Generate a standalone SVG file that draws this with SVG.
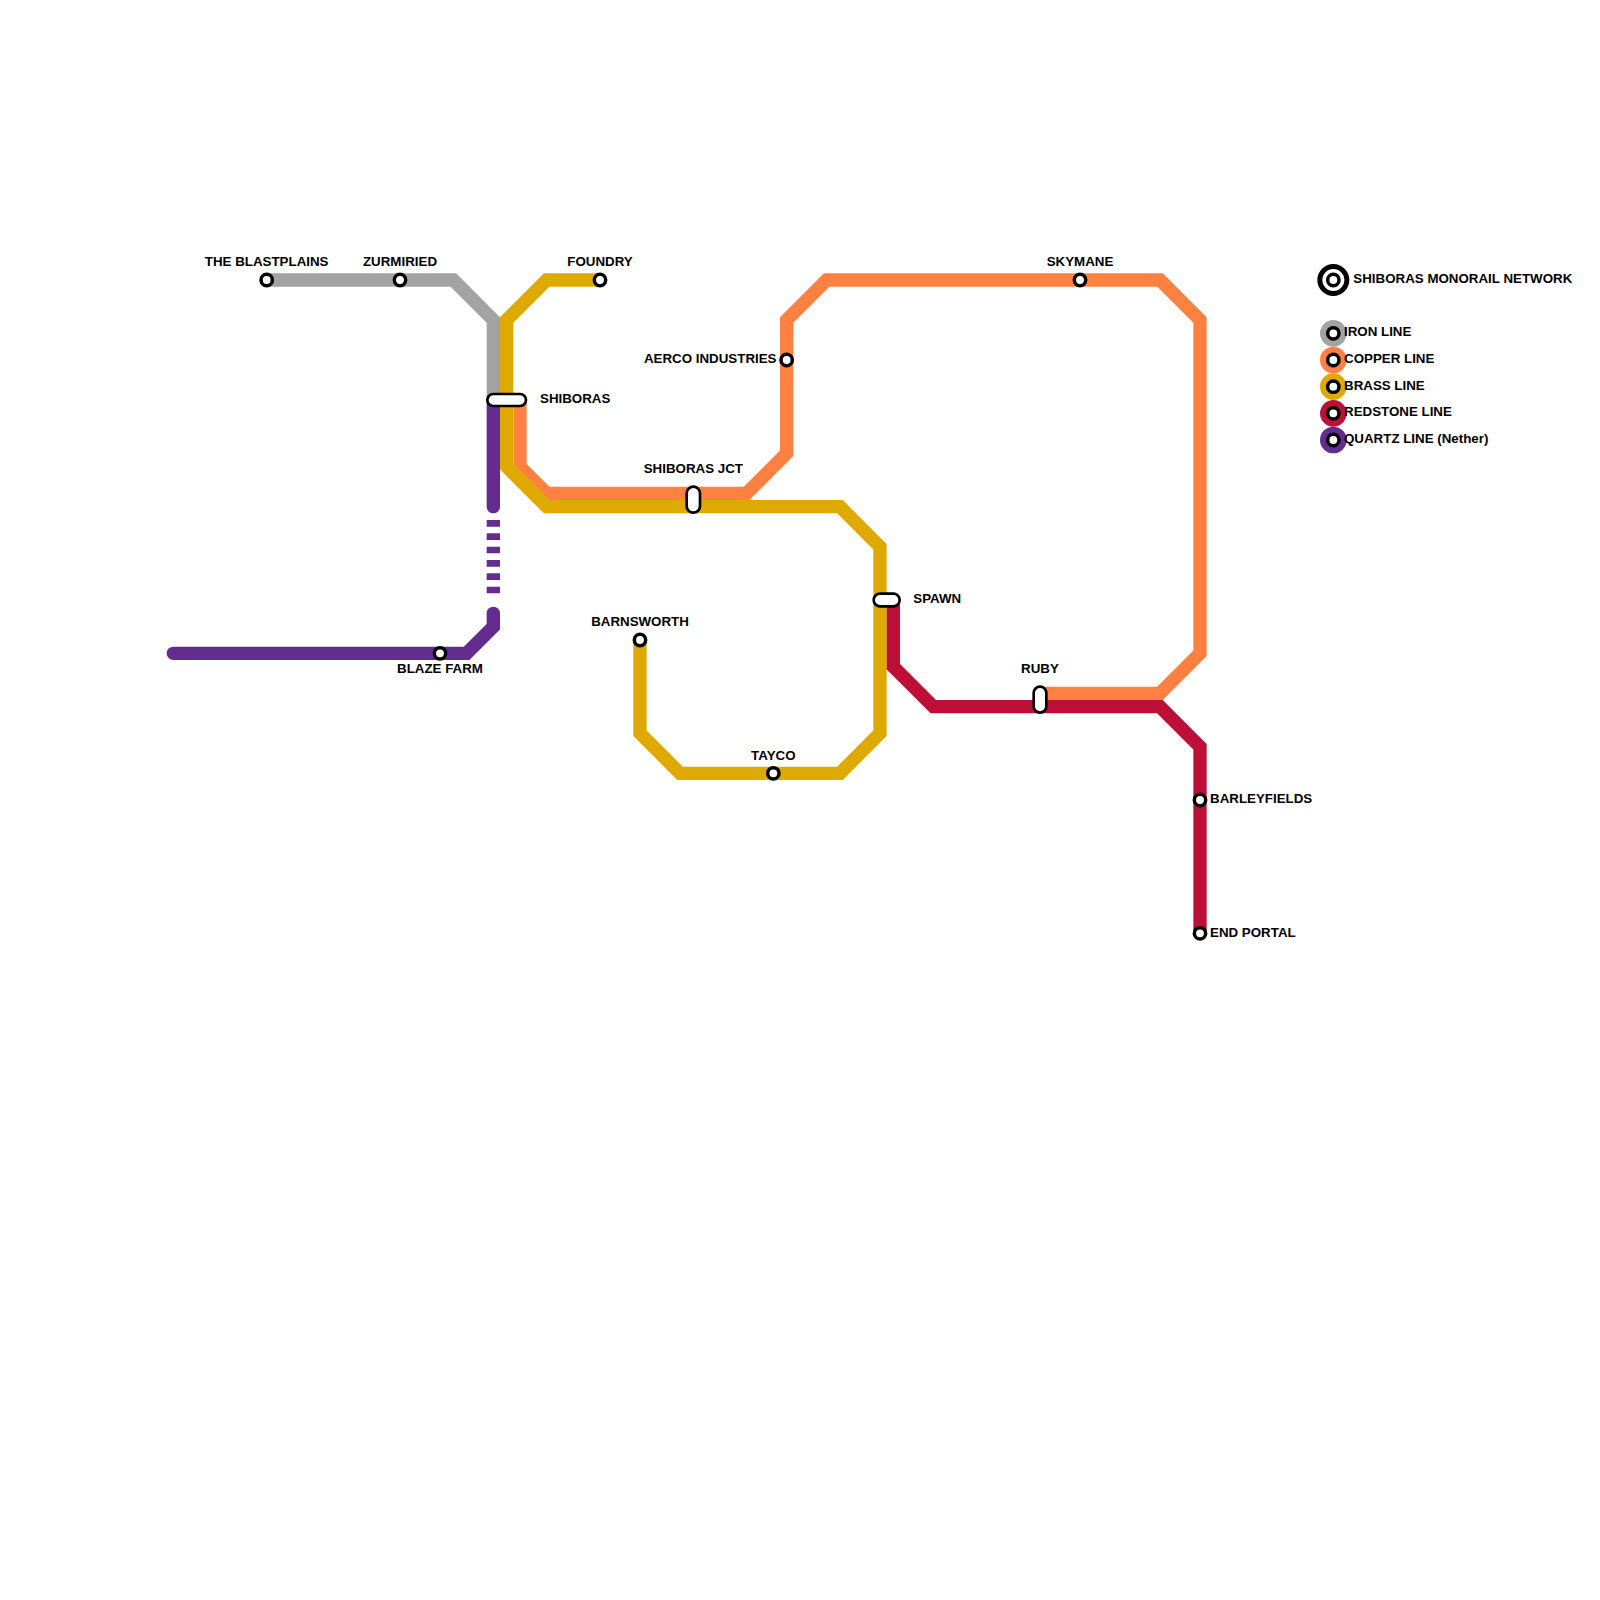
<svg xmlns="http://www.w3.org/2000/svg" width="1600" height="1600" viewBox="0 0 1600 1600">
<style>
.l{fill:none;stroke-width:13.33;stroke-linecap:round;stroke-linejoin:miter}
.st{fill:#fff;stroke:#000;stroke-width:3.5}
.pl{fill:#fff;stroke:#000;stroke-width:2.67}
text{font-family:"Liberation Sans",Arial,sans-serif;font-weight:700;font-size:13.33px;fill:#000}
.m{text-anchor:middle}
.e{text-anchor:end}
</style>
<rect width="1600" height="1600" fill="#fff"/>
<g id="connectors">
<path class="l" stroke="#a3a3a3" d="M266.67 280H453.33L493.33 320V400"/>
<path class="l" stroke="#ff8142" d="M520 400V466.67L546.67 493.33H746.67L786.67 453.33V320L826.67 280H1160L1200 320V653.33L1160 693.33H1040"/>
<path class="l" stroke="#deaa00" d="M600 280H546.67L506.67 320V466.67L546.67 506.67H840L880 546.67V733.33L840 773.33H680L640 733.33V640"/>
<path class="l" stroke="#bd1038" d="M893.33 600V666.67L933.33 706.67H1160L1200 746.67V933.33"/>
<path class="l" stroke="#652c90" d="M493.33 400V506.67"/>
<path class="l" stroke="#652c90" style="stroke-linecap:butt" stroke-dasharray="6.67 6.67" d="M493.33 520V593.33"/>
<path class="l" stroke="#652c90" d="M493.33 613.33V626.67L466.67 653.33H173.33"/>
</g>
<g id="n-blastplains"><circle class="st" cx="266.67" cy="280" r="5.67"/><text class="m" x="266.67" y="266">THE BLASTPLAINS</text></g>
<g id="n-zurmiried"><circle class="st" cx="400" cy="280" r="5.67"/><text class="m" x="400" y="266">ZURMIRIED</text></g>
<g id="n-foundry"><circle class="st" cx="600" cy="280" r="5.67"/><text class="m" x="600" y="266">FOUNDRY</text></g>
<g id="n-skymane"><circle class="st" cx="1080" cy="280" r="5.67"/><text class="m" x="1080" y="266">SKYMANE</text></g>
<g id="n-aerco"><circle class="st" cx="786.67" cy="360" r="5.67"/><text class="e" x="776.5" y="363.33">AERCO INDUSTRIES</text></g>
<g id="n-shiboras"><rect class="pl" x="487.33" y="394" width="38.67" height="12" rx="6"/><text x="540" y="403.33">SHIBORAS</text></g>
<g id="n-shiboras-jct"><rect class="pl" x="686.67" y="486.67" width="13.33" height="26" rx="6.67"/><text class="m" x="693.33" y="472.67">SHIBORAS JCT</text></g>
<g id="n-spawn"><rect class="pl" x="873.67" y="593.67" width="26" height="12.67" rx="6.33"/><text x="913.33" y="603.33">SPAWN</text></g>
<g id="n-ruby"><rect class="pl" x="1033.67" y="686.67" width="12.67" height="26" rx="6.33"/><text class="m" x="1040" y="673">RUBY</text></g>
<g id="n-barnsworth"><circle class="st" cx="640" cy="640" r="5.67"/><text class="m" x="640" y="626">BARNSWORTH</text></g>
<g id="n-blaze"><circle class="st" cx="440" cy="653.33" r="5.67"/><text class="m" x="440" y="673.33">BLAZE FARM</text></g>
<g id="n-tayco"><circle class="st" cx="773.33" cy="773.33" r="5.67"/><text class="m" x="773.33" y="760">TAYCO</text></g>
<g id="n-barleyfields"><circle class="st" cx="1200" cy="800" r="5.67"/><text x="1210" y="803.33">BARLEYFIELDS</text></g>
<g id="n-endportal"><circle class="st" cx="1200" cy="933.33" r="5.67"/><text x="1210" y="936.67">END PORTAL</text></g>
<g id="legend-title"><circle cx="1333.33" cy="280" r="13.5" fill="#fff" stroke="#000" stroke-width="5"/><circle class="st" cx="1333.33" cy="280" r="5.67"/><text x="1353.33" y="283.33">SHIBORAS MONORAIL NETWORK</text></g>
<g id="legend-iron"><circle cx="1333.33" cy="333.33" r="13.33" fill="#a3a3a3"/><circle class="st" cx="1333.33" cy="333.33" r="5.67"/><text x="1344" y="336">IRON LINE</text></g>
<g id="legend-copper"><circle cx="1333.33" cy="360" r="13.33" fill="#ff8142"/><circle class="st" cx="1333.33" cy="360" r="5.67"/><text x="1344" y="363">COPPER LINE</text></g>
<g id="legend-brass"><circle cx="1333.33" cy="386.67" r="13.33" fill="#deaa00"/><circle class="st" cx="1333.33" cy="386.67" r="5.67"/><text x="1344" y="389.67">BRASS LINE</text></g>
<g id="legend-redstone"><circle cx="1333.33" cy="413.33" r="13.33" fill="#bd1038"/><circle class="st" cx="1333.33" cy="413.33" r="5.67"/><text x="1344" y="416.33">REDSTONE LINE</text></g>
<g id="legend-quartz"><circle cx="1333.33" cy="440" r="13.33" fill="#652c90"/><circle class="st" cx="1333.33" cy="440" r="5.67"/><text x="1344" y="443.33">QUARTZ LINE (Nether)</text></g>
</svg>
